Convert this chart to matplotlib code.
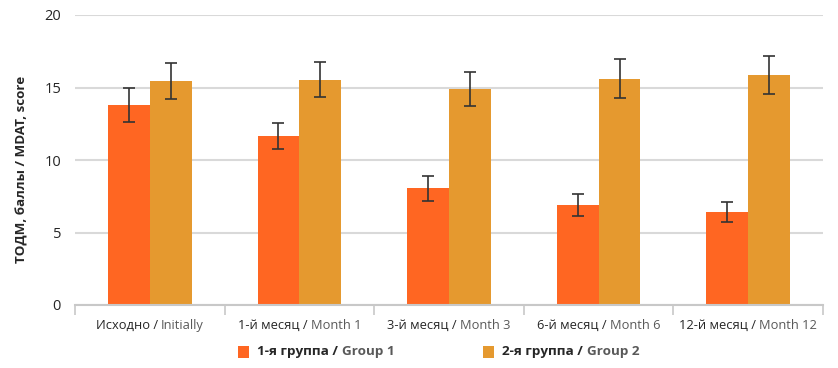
import matplotlib
matplotlib.use("Agg")
import matplotlib.pyplot as plt
import numpy as np
from matplotlib.offsetbox import TextArea, HPacker, AnnotationBbox, DrawingArea
from matplotlib.patches import Rectangle

plt.rcParams['font.family'] = ['Open Sans', 'DejaVu Sans']

categories_ru = ["Исходно /", "1-й месяц /", "3-й месяц /", "6-й месяц /", "12-й месяц /"]
categories_en = ["Initially", "Month 1", "Month 3", "Month 6", "Month 12"]
group1 = [13.8, 11.65, 8.05, 6.92, 6.4]
group1_err = [1.15, 0.9, 0.85, 0.75, 0.7]
group2 = [15.43, 15.55, 14.9, 15.6, 15.85]
group2_err = [1.25, 1.2, 1.2, 1.35, 1.3]
legend_ru = ["1-я группа /", "2-я группа /"]
legend_en = ["Group 1", "Group 2"]
yticks = [0, 5, 10, 15, 20]
ylabel = "ТОДМ, баллы / MDAT, score"

c1 = "#FF6622"
c2 = "#E5992F"
dark = "#262626"
grey = "#595959"

fig = plt.figure(figsize=(8.38, 3.68), dpi=100)
ax = fig.add_axes([75/838, 1-305/368, 748/838, 290/368])

x = np.arange(len(group1))
w = 0.28
ax.bar(x - w/2, group1, w, color=c1, zorder=2)
ax.bar(x + w/2, group2, w, color=c2, zorder=2)
ekw = dict(fmt='none', ecolor='#333333', elinewidth=1.2, capsize=4, capthick=1.2, zorder=3)
ax.errorbar(x - w/2, group1, yerr=group1_err, **ekw)
ax.errorbar(x + w/2, group2, yerr=group2_err, **ekw)

ax.set_xlim(-0.5, len(group1) - 0.5)
ax.set_ylim(0, 20)
ax.set_yticks(yticks)
ax.set_yticklabels([str(t) for t in yticks], fontsize=10.5, color=dark)
ax.tick_params(axis='y', length=0, pad=10)
ax.yaxis.grid(True, color='#d9d9d9', linewidth=1.5, zorder=0)
ax.set_axisbelow(True)
for s in ['top', 'right', 'left']:
    ax.spines[s].set_visible(False)
ax.spines['bottom'].set_color('#c8c8c8')
ax.spines['bottom'].set_linewidth(1.5)
ax.set_xticks(np.arange(len(group1) + 1) - 0.5)
ax.set_xticklabels([])
ax.tick_params(axis='x', length=7, width=1.2, color='#c8c8c8')

ax.set_ylabel(ylabel, fontsize=9.6, fontweight='bold', color=dark)
ax.yaxis.set_label_coords(-46/748, 0.466)

fs = 9.3
for i, (ru, en) in enumerate(zip(categories_ru, categories_en)):
    box = HPacker(children=[TextArea(ru, textprops=dict(color=dark, fontsize=fs)),
                            TextArea(en, textprops=dict(color=grey, fontsize=fs))],
                  sep=2.5, pad=0, align='baseline')
    ab = AnnotationBbox(box, (i, 0), xycoords=('data', 'axes fraction'),
                        xybox=(0, -10), boxcoords='offset points',
                        box_alignment=(0.5, 1), frameon=False, pad=0)
    ax.add_artist(ab)

lfs = 9.7
leg_pos = [(238/838, 1-352/368), (483/838, 1-352/368)]
for (lx, ly), ru, en, col in zip(leg_pos, legend_ru, legend_en, [c1, c2]):
    da = DrawingArea(8, 8, 0, 0)
    da.add_artist(Rectangle((0, 0), 8, 8, facecolor=col, edgecolor='none'))
    txt = HPacker(children=[TextArea(ru, textprops=dict(color=dark, fontsize=lfs, fontweight='bold')),
                            TextArea(en, textprops=dict(color=grey, fontsize=lfs, fontweight='bold'))],
                  sep=2.5, pad=0, align='baseline')
    box = HPacker(children=[da, txt], sep=6, pad=0, align='center')
    ab = AnnotationBbox(box, (lx, ly), xycoords='figure fraction',
                        box_alignment=(0, 0.5), frameon=False, pad=0)
    fig.add_artist(ab)

fig.savefig("out.png", dpi=100)
